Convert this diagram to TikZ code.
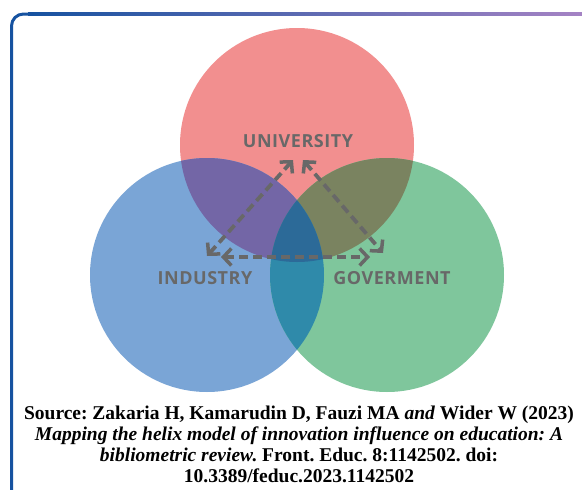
\documentclass[tikz,border=0pt]{standalone}
\usepackage{fontspec}
\setmainfont{Liberation Serif}
\newfontfamily\labelfont[LetterSpace=3]{Open Sans}
\usepackage{xcolor}
\usetikzlibrary{%
  arrows.meta,
  positioning,
  shadings
}
\definecolor{frameblue}{HTML}{1652A0}
\definecolor{framepurple}{HTML}{A583C4}
\definecolor{unired}{HTML}{F28F8F}
\definecolor{indblue}{HTML}{7AA5D6}
\definecolor{govgreen}{HTML}{7FC69C}
\definecolor{uniind}{HTML}{7366A6}
\definecolor{unigov}{HTML}{7A8360}
\definecolor{indgov}{HTML}{2F8AAA}
\definecolor{allthree}{HTML}{2C6A98}
\definecolor{linkgray}{HTML}{686868}
\tikzset{
  sector/.style = {font=\labelfont\bfseries\fontsize{18}{20}\selectfont, text=linkgray},
  link/.style = {draw=linkgray, line width=3.8pt, dash pattern=on 9pt off 5pt,
                 {Straight Barb[length=8pt,width=17pt,line width=3.5pt]}-{Straight Barb[length=8pt,width=17pt,line width=3.5pt]}},
  source/.style = {align=center, font=\bfseries\fontsize{19.5}{21}\selectfont}
}
\frenchspacing

\begin{document}
\begin{tikzpicture}[x=1pt,y=-1pt]
  \useasboundingbox (0,0) rectangle (582,490);
  \fill[white] (0,0) rectangle (582,490);

  % frame: blue left side, shaded top edge
  \draw[frameblue, line width=3pt, rounded corners=12pt] (11.5,492) -- (11.5,14) -- (30,14);
  \shade[left color=frameblue, right color=framepurple] (28,12.5) rectangle (582,15.5);

  % the three circles
  \coordinate (U) at (297,145);
  \coordinate (I) at (207,275);
  \coordinate (G) at (387,275);
  \def\rad{117pt}
  \foreach \c/\col in {U/unired, I/indblue, G/govgreen}{
    \fill[\col] (\c) circle (\rad);
  }
  % overlaps
  \begin{scope}
    \clip (U) circle (\rad);
    \fill[uniind] (I) circle (\rad);
    \fill[unigov] (G) circle (\rad);
  \end{scope}
  \begin{scope}
    \clip (I) circle (\rad);
    \fill[indgov] (G) circle (\rad);
    \clip (G) circle (\rad);
    \fill[allthree] (U) circle (\rad);
  \end{scope}

  % labels
  \node[sector] (uni) at (298,141) {UNIVERSITY};
  \node[sector] (ind) at (205,278) {INDUSTRY};
  \node[sector] (gov) at (392,278) {GOVERMENT};

  % arrow ends
  \coordinate (uni-l) at (293,160);
  \coordinate (uni-r) at (303,160);
  \coordinate (ind-t) at (207,256);
  \coordinate (ind-r) at (221,257);
  \coordinate (gov-t) at (383,253);
  \coordinate (gov-l) at (370,257);
  \draw[link] (ind-t) -- (uni-l);
  \draw[link] (uni-r) -- (gov-t);
  \draw[link] (ind-r) -- (gov-l);

  % citation
  \node[source] (src) at (299,444) {Source: Zakaria H, Kamarudin D, Fauzi MA \textit{and} Wider W (2023)\\
    \textit{Mapping the helix model of innovation influence on education: A}\\
    \textit{bibliometric review.} Front. Educ. 8:1142502. doi:\\
    10.3389/feduc.2023.1142502};
\end{tikzpicture}
\end{document}
